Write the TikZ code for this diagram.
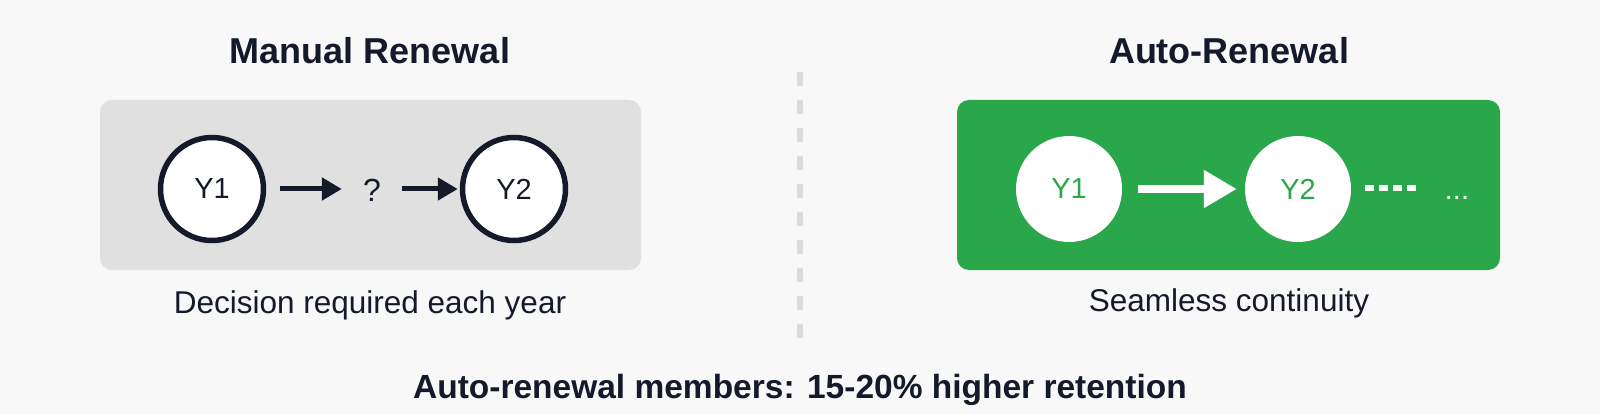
\documentclass[tikz,border=0pt]{standalone}
\usepackage{fontspec}
\setmainfont{Liberation Sans}
\usetikzlibrary{arrows.meta}
\definecolor{bg}{HTML}{F8F8F8}
\definecolor{boxgrey}{HTML}{E0E0E0}
\definecolor{ink}{HTML}{141A2A}
\definecolor{grn}{HTML}{2AA74A}
\definecolor{divc}{HTML}{DCDCDC}
\tikzset{
  title/.style={font=\fontsize{36}{40}\selectfont\bfseries, text=ink, anchor=center},
  caption/.style={font=\fontsize{31.5}{36}\selectfont, text=ink, anchor=center},
  yearL/.style={circle, draw=ink, line width=5.5pt, fill=white, minimum size=103pt, inner sep=0pt, font=\fontsize{29}{32}\selectfont, text=ink},
  yearR/.style={circle, fill=white, minimum size=106pt, inner sep=0pt, font=\fontsize{29}{32}\selectfont, text=grn},
  darrow/.style={draw=ink, line width=5pt, -{Triangle[length=20pt,width=22pt]}},
  warrow/.style={draw=white, line width=8pt, -{Triangle[length=33pt,width=36pt]}},
}
\begin{document}
\begin{tikzpicture}[x=1pt,y=-1pt]
\fill[bg] (0,0) rectangle (1600,414);
\useasboundingbox (0,0) rectangle (1600,414);
% titles
\node[title] (tl) at (370,51) {Manual Renewal};
\node[title] (tr) at (1229,51) {Auto-Renewal};
% boxes
\fill[boxgrey, rounded corners=12pt] (100,100) rectangle (641,270);
\fill[grn, rounded corners=12pt] (957,100) rectangle (1500,270);
% divider
\draw[divc, line width=6pt, dash pattern=on 14pt off 14pt] (800,72) -- (800,343);
% left
\node[yearL] (l1) at (212,189) {Y1};
\node[yearL] (l2) at (514,189) {Y2};
\node[font=\fontsize{32}{36}\selectfont, text=ink, minimum width=60pt, inner sep=0pt] (q) at (372,190) {?};
\draw[darrow, shorten <=14pt] (l1) -- (q.west |- l1);
\draw[darrow, shorten >=2pt] (q.east |- l2) -- (l2);
% right
\node[yearR] (r1) at (1069,189) {Y1};
\node[yearR] (r2) at (1298,189) {Y2};
\coordinate (dend) at (1416,188);
\draw[warrow, shorten <=16pt, shorten >=8pt] (r1) -- (r2);
\draw[white, line width=6pt, dash pattern=on 9pt off 5pt] (r2.east |- dend) ++(14,0) -- (dend);
\node[font=\fontsize{29}{32}\selectfont, text=white] (dots) at (1457,198) {...};
% captions
\node[caption] (cl) at (370,305) {Decision required each year};
\node[caption] (cr) at (1229,303) {Seamless continuity};
\node[font=\fontsize{33.5}{38}\selectfont\bfseries, text=ink] (bottom) at (800,390) {Auto-renewal members: 15-20\% higher retention};
\end{tikzpicture}
\end{document}
